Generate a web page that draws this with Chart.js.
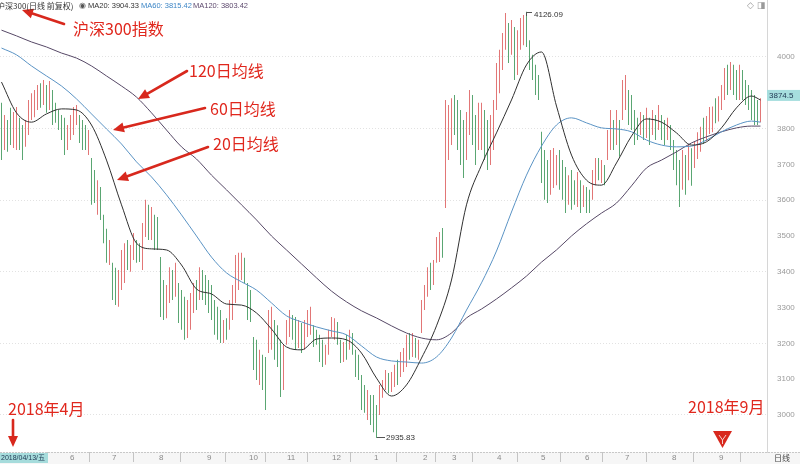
<!DOCTYPE html>
<html><head><meta charset="utf-8">
<script src="https://cdn.jsdelivr.net/npm/chart.js@4.4.1/dist/chart.umd.min.js"></script>
<style>
html,body{margin:0;padding:0;background:#fff;}
#wrap{position:relative;width:800px;height:464px;overflow:hidden;}
canvas{position:absolute;left:0;top:0;}
.note{position:absolute;color:#e0271d;font-size:16px;line-height:16px;white-space:nowrap;font-family:"Noto Sans CJK SC",sans-serif;}
.hd{position:absolute;top:0;white-space:nowrap;line-height:11px;color:#333;font-family:"Liberation Sans",Arial,sans-serif;font-size:7.5px;}
.cjk{font-family:"Noto Sans CJK SC",sans-serif;font-size:8px;}
</style></head>
<body>
<div id="wrap">
<canvas id="c" width="800" height="464"></canvas>
<div class="hd cjk" style="left:-3px;">沪深300(日线 前复权)</div>
<div class="hd" style="left:79px;color:#555;font-size:8px;">◉</div>
<div class="hd" style="left:88px;">MA20: 3904.33</div>
<div class="hd" style="left:141px;color:#3d86c6;">MA60: 3815.42</div>
<div class="hd" style="left:193px;color:#5e4a6e;">MA120: 3803.42</div>
<div class="hd" style="left:747px;top:0;color:#999;font-size:9px;">◇ ◨</div>
<div class="note" style="left:73px;top:20px;">沪深300指数</div>
<div class="note" style="left:189px;top:62px;">120日均线</div>
<div class="note" style="left:210px;top:100px;">60日均线</div>
<div class="note" style="left:213px;top:135px;">20日均线</div>
<div class="note" style="left:8px;top:400px;">2018年4月</div>
<div class="note" style="left:688px;top:398px;">2018年9月</div>
<div style="position:absolute;left:0;top:453px;width:48px;height:10px;background:#a6dcdc;overflow:hidden;padding-left:1px;box-sizing:border-box;font:7px/10px 'Liberation Sans',Arial,'Noto Sans CJK SC',sans-serif;color:#1d3550;white-space:nowrap;">2018/04/13/五</div>
<div style="position:absolute;left:774px;top:453px;font:8px/10px 'Noto Sans CJK SC',sans-serif;color:#444;">日线</div>
</div>
<script>
// ---- price bars (high / low per bar, direction u = up, d = down) ----
const highs = [
3872,3838,3824,3858,3846,3860,3830,3810,3824,3880,
3899,3908,3922,3927,3936,3922,3933,3908,3872,3852,
3838,3830,3810,3838,3860,3866,3838,3824,3810,3796,
3718,3684,3656,3637,3559,3520,3489,3425,3411,3405,
3461,3480,3489,3475,3508,3489,3480,3536,3601,3587,
3581,3559,3553,3441,3377,3363,3413,3405,3425,3369,
3349,3330,3321,3341,3369,3377,3413,3405,3391,3377,
3363,3321,3302,3293,3265,3270,3321,3363,3447,3453,
3453,3439,3369,3349,3218,3210,3182,3168,3162,3293,
3302,3265,3251,3210,3196,3265,3293,3279,3274,3265,
3257,3265,3293,3302,3251,3238,3224,3210,3196,3238,
3274,3270,3260,3210,3204,3224,3238,3229,3182,3168,
3112,3084,3070,3056,3056,3028,3084,3098,3126,3117,
3120,3140,3154,3176,3187,3224,3229,3229,3215,3210,
3321,3363,3413,3425,3433,3497,3511,3522,3880,3866,
3885,3894,3880,3852,3824,3846,3908,3894,3838,3872,
3872,3852,3824,3838,3880,3983,4020,4067,4123,4095,
4103,4084,4075,4109,4117,4126.09,4047,4006,3978,3950,
3791,3740,3712,3740,3746,3726,3740,3712,3693,3670,
3684,3656,3679,3656,3642,3637,3629,3684,3718,3718,
3712,3698,3796,3852,3824,3852,3824,3936,3950,3908,
3894,3852,3830,3846,3838,3858,3830,3852,3838,3866,
3838,3824,3830,3810,3768,3740,3712,3740,3726,3754,
3745,3765,3790,3805,3830,3835,3860,3862,3885,3890,
3922,3969,3978,3986,3978,3964,3978,3964,3936,3922,
3908,3894,3880,3885];
const lows = [
3712,3740,3735,3754,3746,3740,3740,3712,3749,3782,
3824,3832,3852,3858,3866,3844,3852,3810,3816,3796,
3768,3726,3740,3768,3782,3810,3760,3740,3740,3726,
3587,3592,3559,3545,3480,3425,3419,3321,3307,3302,
3349,3369,3405,3400,3433,3425,3427,3405,3497,3489,
3489,3461,3461,3274,3265,3270,3313,3321,3330,3257,
3238,3210,3215,3238,3285,3293,3321,3321,3307,3285,
3265,3224,3210,3201,3201,3210,3238,3265,3313,3349,
3377,3369,3265,3260,3126,3098,3084,3070,3014,3173,
3182,3154,3134,3050,3070,3196,3218,3210,3182,3187,
3173,3182,3218,3224,3190,3196,3148,3134,3140,3168,
3218,3210,3196,3145,3148,3154,3182,3168,3106,3098,
3014,3006,2986,2972,2952,2935.83,3000,3048,3070,3061,
3064,3078,3084,3106,3120,3134,3154,3162,3160,3154,
3229,3293,3330,3349,3363,3425,3427,3439,3578,3712,
3754,3782,3740,3698,3662,3712,3782,3754,3698,3740,
3740,3712,3684,3698,3740,3852,3899,3964,4020,3983,
4006,3936,3950,4020,4033,4028,3964,3936,3894,3880,
3648,3601,3592,3615,3634,3642,3629,3601,3564,3587,
3573,3587,3581,3564,3581,3564,3564,3601,3642,3656,
3648,3642,3712,3740,3740,3754,3721,3824,3852,3810,
3796,3754,3768,3782,3768,3774,3754,3782,3768,3796,
3768,3754,3768,3740,3684,3642,3581,3629,3615,3656,
3640,3690,3715,3735,3758,3765,3785,3790,3815,3820,
3852,3880,3894,3908,3894,3880,3880,3880,3866,3852,
3824,3810,3810,3818];
const dirs = ("dudduudduu"+"uuudududdd"+"dduuuudddu"+"dduddduddu"+"uuduudduud"+
 "udddduudud"+"dduuududdd"+"dddduduuuu"+"uddddduddu"+"uddduuuddu"+
 "duuudddduu"+"uuddududdd"+"dduddduuud"+"uuduuududu"+"uuuduuuduu"+
 "udddduuddu"+"udduuuuuud"+"uduuuddddd"+"ddduuudddu"+"ddududduud"+
 "uduududuud"+"dddudududu"+"dduddddudu"+"duuuduuudu"+"uududduddd"+"dddu").split('');

// ---- moving averages, sampled at every 5th bar (last at bar 253) ----
const maBars = [0,5,10,15,20,25,30,35,40,45,50,55,60,65,70,75,80,85,90,95,100,105,110,115,120,125,
 130,135,140,145,150,155,160,165,170,175,180,185,190,195,200,205,210,215,220,225,230,235,240,245,250,253];
const ma20 = [3930,3844,3818,3841,3855,3852,3810,3712,3587,3480,3464,3461,3419,3352,3338,3310,3307,3285,
 3240,3190,3182,3212,3215,3210,3173,3103,3053,3084,3159,3249,3377,3587,3698,3788,3880,3978,4014,3863,
 3726,3656,3642,3704,3779,3827,3818,3788,3754,3763,3802,3858,3891,3880];
const ma60 = [4025,4006,3975,3947,3919,3883,3841,3799,3757,3707,3665,3615,3559,3500,3441,3397,3372,3349,
 3313,3277,3260,3246,3235,3224,3193,3162,3151,3148,3145,3162,3215,3293,3369,3458,3567,3670,3751,3810,
 3830,3816,3802,3799,3791,3768,3754,3749,3751,3768,3791,3810,3821,3818];
const ma120 = [4075,4059,4042,4028,4011,3997,3975,3947,3919,3888,3844,3796,3749,3715,3670,3629,3587,3545,
 3500,3461,3422,3383,3346,3316,3291,3271,3249,3229,3215,3210,3229,3271,3296,3324,3355,3388,3427,3461,
 3500,3534,3564,3592,3640,3690,3712,3735,3760,3777,3791,3802,3807,3807];

// ---- axes ----
const monthPos = [22.17,36.17,51.83,67.83,81.83,94.5,109.5,123.5,139.83,149.5,164.5,179.17,193.83,207.17,222.83,238.5];
const monthLabels = ['6','7','8','9','10','11','12','1','2','3','4','5','6','7','8','9'];
const yTicks = [3000,3100,3200,3300,3400,3500,3600,3700,3800,3900,4000];
const lastClose = 3874.5;

const barData = highs.map((h,i)=>({x:i, y:[lows[i], h]}));
const barColors = highs.map((h,i)=> dirs[i]==='d' ? '#5aa672' : '#e27676');
const pts = arr => arr.map((v,k)=>({x:maBars[k], y:v}));

function arrow(ctx,x1,y1,x2,y2){
  const a=Math.atan2(y2-y1,x2-x1), head=11, hw=5;
  const bx=x2-head*Math.cos(a), by=y2-head*Math.sin(a);
  ctx.lineWidth=2.6; ctx.beginPath(); ctx.moveTo(x1,y1); ctx.lineTo(bx,by); ctx.stroke();
  ctx.beginPath(); ctx.moveTo(x2,y2);
  ctx.lineTo(bx+hw*Math.sin(a), by-hw*Math.cos(a));
  ctx.lineTo(bx-hw*Math.sin(a), by+hw*Math.cos(a));
  ctx.closePath(); ctx.fill();
}

const bandPlugin = {
  id:'band',
  beforeDraw(chart){
    const {ctx, chartArea} = chart;
    ctx.save();
    ctx.fillStyle='#f6f6f6';
    ctx.fillRect(0, chartArea.bottom, 800, 464-chartArea.bottom);
    ctx.strokeStyle='#c8c8c8'; ctx.lineWidth=1; ctx.setLineDash([2,1]);
    ctx.beginPath(); ctx.moveTo(0, chartArea.bottom+0.5); ctx.lineTo(800, chartArea.bottom+0.5); ctx.stroke();
    ctx.restore();
  }
};

const notePlugin = {
  id:'notes',
  afterDatasetsDraw(chart){
    const {ctx, scales:{x,y}, chartArea} = chart;
    ctx.save();
    const hiV = Math.max(...highs), loV = Math.min(...lows);
    const hi = highs.indexOf(hiV), lo = lows.indexOf(loV);
    ctx.strokeStyle='#555'; ctx.fillStyle='#333'; ctx.lineWidth=1;
    ctx.font='8px "Liberation Sans", Arial, sans-serif'; ctx.textBaseline='middle'; ctx.textAlign='left';
    let px=Math.round(x.getPixelForValue(hi)), py=Math.round(y.getPixelForValue(hiV));
    ctx.beginPath(); ctx.moveTo(px+0.5,py+4); ctx.lineTo(px+0.5,py+0.5); ctx.lineTo(px+6,py+0.5); ctx.stroke();
    ctx.fillText(hiV.toFixed(2), px+8, py+3);
    px=Math.round(x.getPixelForValue(lo)); py=Math.round(y.getPixelForValue(loV));
    ctx.beginPath(); ctx.moveTo(px+1,py-0.5); ctx.lineTo(px+9,py-0.5); ctx.stroke();
    ctx.fillText(loV.toFixed(2), px+10, py-0.5);
    const ly = y.getPixelForValue(lastClose);
    ctx.fillStyle='#a6dede'; ctx.fillRect(chartArea.right, ly-12, 33, 11);
    ctx.fillStyle='#1d3550'; ctx.fillText(String(lastClose), chartArea.right+2, ly-6.5);
    ctx.strokeStyle='#d8281d'; ctx.fillStyle='#d8281d'; ctx.lineCap='round';
    arrow(ctx,64,24,22,10);
    arrow(ctx,187,71,138,99);
    arrow(ctx,205,108,113,130);
    arrow(ctx,208,147,117,180);
    arrow(ctx,13,420,13,447);
    ctx.beginPath(); ctx.moveTo(713,431); ctx.lineTo(732,431); ctx.lineTo(722.5,448); ctx.closePath(); ctx.fill();
    ctx.strokeStyle='#f4d0cc'; ctx.lineWidth=1; ctx.lineCap='butt';
    ctx.beginPath(); ctx.moveTo(719,435); ctx.lineTo(722.5,440); ctx.lineTo(726,435); ctx.moveTo(722.5,440); ctx.lineTo(722.5,444); ctx.stroke();
    ctx.restore();
  }
};

new Chart(document.getElementById('c'), {
  type:'bar',
  data:{datasets:[
    {type:'line', label:'MA20', data:pts(ma20), borderColor:'#303030', borderWidth:1, pointRadius:0, cubicInterpolationMode:'monotone', order:1},
    {type:'line', label:'MA60', data:pts(ma60), borderColor:'#5a93c4', borderWidth:1, pointRadius:0, cubicInterpolationMode:'monotone', order:1},
    {type:'line', label:'MA120', data:pts(ma120), borderColor:'#564866', borderWidth:1, pointRadius:0, cubicInterpolationMode:'monotone', order:1},
    {type:'bar', label:'沪深300', data:barData, backgroundColor:barColors, borderWidth:0, barThickness:1, inflateAmount:0, order:2, grouped:false}
  ]},
  options:{
    responsive:false, animation:false, devicePixelRatio:1,
    layout:{padding:0},
    plugins:{legend:{display:false}, tooltip:{enabled:false}},
    scales:{
      x:{type:'linear', min:-0.5, max:255.1667, offset:false,
        grid:{drawOnChartArea:false, drawTicks:true, tickLength:10, tickColor:'#c4c4c4', color:'#c4c4c4'},
        border:{display:false},
        afterBuildTicks:s=>{ s.ticks = monthPos.map(v=>({value:v})); },
        afterFit:s=>{ s.height=12; s.paddingLeft=0; s.paddingRight=0; },
        ticks:{autoSkip:false, maxRotation:0, align:'start', padding:-9, labelOffset:2,
          font:{size:8, family:'"Liberation Sans", Arial, sans-serif'}, color:'#8a8a8a',
          callback:(v,i)=>monthLabels[i]}
      },
      y:{type:'linear', position:'right', min:2896.6, max:4159.2,
        afterBuildTicks:s=>{ s.ticks = yTicks.map(v=>({value:v})); },
        afterFit:s=>{ s.width=33; s.paddingTop=0; s.paddingBottom=0; },
        grid:{drawTicks:false, color:c=> (c.tick && c.tick.value%200===0) ? '#e2e2e2' : 'rgba(0,0,0,0)'},
        border:{display:true, color:'#d6d6d6', dash:[1,2]},
        ticks:{padding:10, font:{size:8, family:'"Liberation Sans", Arial, sans-serif'}, color:'#9a9a9a',
          callback:v=> v===3900 ? '' : String(v)}
      }
    }
  },
  plugins:[bandPlugin, notePlugin]
});
</script>
</body></html>
